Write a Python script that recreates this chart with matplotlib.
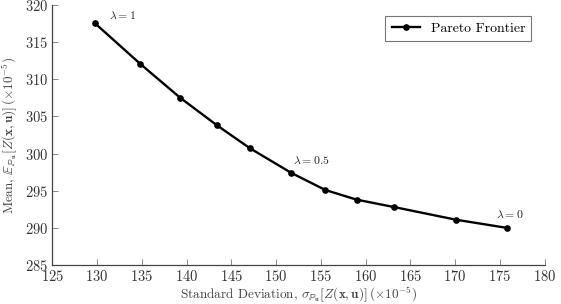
import matplotlib
matplotlib.use("Agg")
import matplotlib.pyplot as plt

plt.rcParams['font.family'] = 'serif'
plt.rcParams['font.serif'] = ['cmr10', 'DejaVu Serif']
plt.rcParams['mathtext.fontset'] = 'cm'
plt.rcParams['axes.formatter.use_mathtext'] = True

# Pareto frontier points (x10^-5)
std_dev = [129.8, 134.8, 139.3, 143.4, 147.1, 151.7, 155.5, 159.0, 163.2, 170.1, 175.8]
mean = [317.5, 312.1, 307.5, 303.8, 300.7, 297.4, 295.1, 293.8, 292.8, 291.1, 290.0]

# lambda annotations
lam_labels = [r'$\lambda = 1$', r'$\lambda = 0.5$', r'$\lambda = 0$']
lam_idx = [0, 5, 10]

x_ticks = list(range(125, 181, 5))
y_ticks = list(range(285, 321, 5))

fig = plt.figure(figsize=(5.61, 3.04), dpi=100)
ax = fig.add_axes([0.093, 0.128, 0.878, 0.856])

ax.plot(std_dev, mean, color='black', lw=1.7, marker='o', ms=3.8,
        label='Pareto Frontier')

offsets = [(10, 1.5), (1, 5), (-8, 6)]
for lab, i, off in zip(lam_labels, lam_idx, offsets):
    ax.annotate(lab, (std_dev[i], mean[i]), xytext=off, textcoords='offset points',
                fontsize=8.5, ha='left', va='bottom', color='#222222')

ax.set_xlim(125, 180)
ax.set_ylim(285, 320)
ax.set_xticks(x_ticks)
ax.set_yticks(y_ticks)

for s in ['top', 'right']:
    ax.spines[s].set_visible(False)
for s in ['left', 'bottom']:
    ax.spines[s].set_color('#444444')
    ax.spines[s].set_linewidth(0.9)
ax.tick_params(direction='in', length=4, width=0.6, color='#777777',
               labelsize=10.5, labelcolor='#333333', pad=3)

ax.set_xlabel(r'Standard Deviation, $\sigma_{\mathbb{P}_\mathbf{u}}\left[Z(\mathbf{x},\mathbf{u})\right]\,(\times 10^{-5})$',
              fontsize=9.5, color='#444444', labelpad=0)
ax.set_ylabel(r'Mean, $\mathbb{E}_{\mathbb{P}_\mathbf{u}}\left[Z(\mathbf{x},\mathbf{u})\right]\,(\times 10^{-5})$',
              fontsize=9.5, color='#444444', labelpad=4)

leg = ax.legend(loc='upper right', fontsize=10, frameon=True, fancybox=False,
                edgecolor='#555555', handlelength=2.0, borderpad=0.45,
                bbox_to_anchor=(0.987, 0.985))
leg.get_frame().set_linewidth(0.8)

fig.savefig('out.png', dpi=100)
